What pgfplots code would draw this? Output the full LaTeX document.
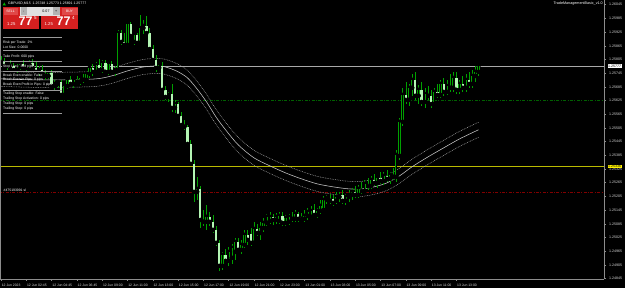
\documentclass[border=0pt]{standalone}
\usepackage{fontspec}
\setmainfont{Liberation Sans}
\usepackage{pgfplots}
\usepackage{pgfplotstable}
\pgfplotsset{compat=1.18}
\pgfdeclarelayer{background}
\pgfsetlayers{background,main}
\definecolor{wick}{HTML}{00A000}
\definecolor{bearfill}{HTML}{B4F5B4}
\definecolor{axgray}{HTML}{8C8C8C}
\definecolor{lbl}{HTML}{D8D8D8}
\definecolor{envc}{HTML}{C8C8C8}
\definecolor{envd}{HTML}{A8A8A8}
\definecolor{tpgreen}{HTML}{006000}
\definecolor{slred}{HTML}{800000}
\definecolor{openyel}{HTML}{BABA00}
\definecolor{bidline}{HTML}{A8A8A8}
\definecolor{sellred}{HTML}{D42020}
\definecolor{btnred}{HTML}{E04848}
\definecolor{panelgray}{HTML}{9A9A9A}
\newcommand\pf{\fontsize{3.4}{4}\selectfont}

\pgfplotstableread{
i o h l c
0 1.25803 1.25821 1.25786 1.25794
1 1.25794 1.25812 1.25768 1.25777
2 1.25777 1.25794 1.25759 1.25786
3 1.25786 1.25803 1.25768 1.25777
4 1.25777 1.25790 1.25751 1.25759
5 1.25759 1.25786 1.25746 1.25772
6 1.25772 1.25794 1.25759 1.25786
7 1.25786 1.25803 1.25764 1.25768
8 1.25768 1.25790 1.25751 1.25781
9 1.25781 1.25803 1.25768 1.25790
10 1.25790 1.25808 1.25759 1.25768
11 1.25768 1.25794 1.25742 1.25751
12 1.25751 1.25777 1.25733 1.25759
13 1.25759 1.25781 1.25733 1.25742
14 1.25742 1.25759 1.25716 1.25733
15 1.25733 1.25755 1.25720 1.25746
16 1.25746 1.25759 1.25681 1.25689
17 1.25689 1.25716 1.25672 1.25698
18 1.25698 1.25716 1.25681 1.25707
19 1.25707 1.25716 1.25641 1.25650
20 1.25650 1.25698 1.25641 1.25689
21 1.25689 1.25724 1.25676 1.25716
22 1.25716 1.25733 1.25689 1.25698
23 1.25698 1.25724 1.25681 1.25716
24 1.25716 1.25733 1.25698 1.25707
25 1.25707 1.25729 1.25694 1.25724
26 1.25724 1.25742 1.25702 1.25716
27 1.25716 1.25751 1.25707 1.25742
28 1.25742 1.25777 1.25724 1.25768
29 1.25768 1.25786 1.25733 1.25751
30 1.25751 1.25794 1.25742 1.25781
31 1.25781 1.25808 1.25751 1.25759
32 1.25759 1.25803 1.25746 1.25790
33 1.25790 1.25803 1.25742 1.25751
34 1.25751 1.25794 1.25738 1.25786
35 1.25786 1.25799 1.25742 1.25751
36 1.25751 1.25777 1.25733 1.25759
37 1.25759 1.25935 1.25751 1.25921
38 1.25921 1.25935 1.25869 1.25882
39 1.25882 1.25921 1.25860 1.25869
40 1.25869 1.25970 1.25860 1.25961
41 1.25961 1.25970 1.25900 1.25908
42 1.25882 1.25921 1.25869 1.25913
43 1.25913 1.25921 1.25873 1.25878
44 1.25878 1.26000 1.25869 1.25943
45 1.25943 1.25978 1.25917 1.25952
46 1.25952 1.25996 1.25913 1.25921
47 1.25921 1.25943 1.25847 1.25851
48 1.25851 1.25869 1.25794 1.25803
49 1.25803 1.25825 1.25751 1.25768
50 1.25768 1.25790 1.25759 1.25781
51 1.25777 1.25794 1.25663 1.25672
52 1.25672 1.25689 1.25628 1.25641
53 1.25641 1.25663 1.25619 1.25650
54 1.25654 1.25698 1.25575 1.25593
55 1.25593 1.25628 1.25571 1.25610
56 1.25610 1.25619 1.25549 1.25558
57 1.25558 1.25575 1.25510 1.25518
58 1.25518 1.25540 1.25497 1.25510
59 1.25510 1.25518 1.25427 1.25435
60 1.25435 1.25453 1.25339 1.25348
61 1.25348 1.25365 1.25181 1.25225
62 1.25225 1.25291 1.25190 1.25238
63 1.25238 1.25251 1.25067 1.25102
64 1.25102 1.25146 1.25076 1.25094
65 1.25094 1.25168 1.25059 1.25116
66 1.25116 1.25137 1.25076 1.25094
67 1.25094 1.25124 1.25045 1.25059
68 1.25059 1.25076 1.24988 1.25002
69 1.25002 1.25015 1.24879 1.24901
70 1.24901 1.24962 1.24883 1.24949
71 1.24949 1.24975 1.24914 1.24923
72 1.24923 1.24984 1.24901 1.24962
73 1.24936 1.24997 1.24910 1.24980
74 1.24962 1.25024 1.24927 1.25006
75 1.25006 1.25024 1.24962 1.24971
76 1.24971 1.25015 1.24953 1.24993
77 1.24993 1.25059 1.24980 1.25037
78 1.25037 1.25059 1.24993 1.25015
79 1.25041 1.25067 1.24988 1.25002
80 1.25002 1.25094 1.24997 1.25063
81 1.25063 1.25085 1.25032 1.25045
82 1.25045 1.25094 1.25015 1.25067
83 1.25067 1.25111 1.25050 1.25089
84 1.25089 1.25129 1.25076 1.25116
85 1.25098 1.25137 1.25085 1.25116
86 1.25116 1.25129 1.25081 1.25102
87 1.25102 1.25133 1.25085 1.25116
88 1.25098 1.25137 1.25085 1.25120
89 1.25120 1.25137 1.25076 1.25089
90 1.25089 1.25124 1.25076 1.25111
91 1.25094 1.25129 1.25081 1.25116
92 1.25116 1.25137 1.25094 1.25107
93 1.25107 1.25146 1.25094 1.25129
94 1.25129 1.25137 1.25094 1.25107
95 1.25116 1.25133 1.25098 1.25107
96 1.25107 1.25146 1.25094 1.25120
97 1.25120 1.25155 1.25102 1.25137
98 1.25116 1.25164 1.25107 1.25142
99 1.25146 1.25172 1.25116 1.25124
100 1.25124 1.25155 1.25111 1.25142
101 1.25142 1.25190 1.25129 1.25164
102 1.25146 1.25207 1.25137 1.25190
103 1.25190 1.25212 1.25172 1.25199
104 1.25194 1.25216 1.25172 1.25186
105 1.25194 1.25212 1.25164 1.25177
106 1.25186 1.25225 1.25172 1.25203
107 1.25203 1.25225 1.25181 1.25207
108 1.25212 1.25234 1.25172 1.25186
109 1.25186 1.25216 1.25168 1.25203
110 1.25203 1.25234 1.25181 1.25212
111 1.25212 1.25243 1.25190 1.25225
112 1.25225 1.25251 1.25199 1.25212
113 1.25212 1.25256 1.25199 1.25238
114 1.25238 1.25269 1.25216 1.25229
115 1.25229 1.25278 1.25221 1.25260
116 1.25260 1.25286 1.25234 1.25251
117 1.25251 1.25295 1.25238 1.25278
118 1.25278 1.25304 1.25251 1.25264
119 1.25264 1.25295 1.25243 1.25286
120 1.25286 1.25313 1.25260 1.25273
121 1.25273 1.25313 1.25256 1.25295
122 1.25295 1.25321 1.25269 1.25282
123 1.25282 1.25313 1.25260 1.25300
124 1.25300 1.25330 1.25278 1.25291
125 1.25291 1.25409 1.25269 1.25387
126 1.25383 1.25549 1.25365 1.25532
127 1.25532 1.25681 1.25514 1.25650
128 1.25650 1.25707 1.25610 1.25628
129 1.25628 1.25698 1.25602 1.25681
130 1.25681 1.25742 1.25646 1.25716
131 1.25716 1.25751 1.25628 1.25646
132 1.25646 1.25694 1.25610 1.25672
133 1.25672 1.25707 1.25602 1.25619
134 1.25619 1.25681 1.25593 1.25654
135 1.25654 1.25689 1.25628 1.25646
136 1.25646 1.25672 1.25593 1.25610
137 1.25610 1.25681 1.25602 1.25663
138 1.25663 1.25698 1.25637 1.25650
139 1.25650 1.25716 1.25637 1.25698
140 1.25698 1.25724 1.25646 1.25663
141 1.25663 1.25716 1.25650 1.25689
142 1.25689 1.25742 1.25663 1.25681
143 1.25681 1.25751 1.25663 1.25724
144 1.25724 1.25751 1.25654 1.25672
145 1.25672 1.25716 1.25654 1.25698
146 1.25698 1.25733 1.25663 1.25681
147 1.25681 1.25742 1.25663 1.25716
148 1.25716 1.25751 1.25681 1.25698
149 1.25698 1.25759 1.25681 1.25733
150 1.25733 1.25777 1.25707 1.25751
151 1.25751 1.25777 1.25733 1.25777
}\candles

\pgfplotstableread{
i mid up lo
-1 1.25720 1.25753 1.25687
0 1.25720 1.25753 1.25687
10 1.25716 1.25749 1.25683
20 1.25716 1.25749 1.25683
30 1.25720 1.25753 1.25687
35 1.25733 1.25766 1.25700
40 1.25755 1.25788 1.25722
45 1.25772 1.25805 1.25739
50 1.25777 1.25810 1.25744
53 1.25768 1.25801 1.25735
56 1.25751 1.25784 1.25718
59 1.25724 1.25757 1.25691
62 1.25676 1.25709 1.25643
65 1.25619 1.25652 1.25586
68 1.25553 1.25586 1.25520
71 1.25497 1.25530 1.25464
75 1.25431 1.25464 1.25398
80 1.25374 1.25407 1.25341
85 1.25339 1.25372 1.25306
90 1.25308 1.25341 1.25275
95 1.25282 1.25315 1.25249
100 1.25260 1.25293 1.25227
105 1.25247 1.25280 1.25214
110 1.25238 1.25271 1.25205
114 1.25238 1.25271 1.25205
118 1.25247 1.25280 1.25214
122 1.25264 1.25297 1.25231
126 1.25295 1.25328 1.25262
130 1.25335 1.25368 1.25302
135 1.25378 1.25411 1.25345
140 1.25418 1.25451 1.25385
145 1.25457 1.25490 1.25424
151 1.25497 1.25530 1.25464
}\env

\begin{document}
\begin{tikzpicture}[x=1pt,y=1pt]
\begin{axis}[
  name=ax, at={(0,9)}, anchor=south west,
  width=604pt, height=279pt, scale only axis,
  xmin=-0.316, xmax=190.67, ymin=1.248432, ymax=1.260656,
  axis x line*=bottom, axis y line*=right,
  axis line style={draw=axgray, line width=0.6pt},
  clip mode=individual,
  tick align=outside, major tick length=2pt,
  tick style={draw=axgray, line width=0.5pt},
  scaled y ticks=false,
  ytick={1.24845,1.24905,1.24965,1.25025,1.25085,1.25145,1.25205,1.25265,1.25325,1.25385,1.25445,1.25505,1.25565,1.25625,1.25685,1.25745,1.25805,1.25865,1.25925,1.25985,1.26045},
  yticklabel style={font=\fontsize{3.6}{4}\selectfont, text=lbl, anchor=west, inner sep=0pt, xshift=3pt,
     /pgf/number format/fixed, /pgf/number format/precision=5, /pgf/number format/zerofill, /pgf/number format/assume math mode=true},
  xtick={0,8,...,144},
  xticklabels={12 Jun 2023,12 Jun 02:45,12 Jun 04:45,12 Jun 06:45,12 Jun 09:00,12 Jun 11:00,12 Jun 13:00,12 Jun 15:00,12 Jun 17:00,12 Jun 19:00,12 Jun 21:00,12 Jun 23:00,13 Jun 01:00,13 Jun 03:00,13 Jun 05:00,13 Jun 07:00,13 Jun 09:00,13 Jun 11:00,13 Jun 13:00},
  xticklabel style={font=\fontsize{3.4}{4}\selectfont, text=lbl, anchor=north west, inner sep=0pt, yshift=-2.5pt, xshift=0.6pt},
]
% horizontal levels
\addplot[draw=bidline, line width=0.6pt] coordinates {(-5,1.25777) (200,1.25777)};
\addplot[draw=tpgreen, line width=0.6pt, dash pattern=on 3pt off 1.5pt on 0.8pt off 1.5pt] coordinates {(-5,1.25625) (200,1.25625)};
\addplot[draw=openyel, line width=0.6pt] coordinates {(-5,1.25336) (200,1.25336)};
\addplot[draw=slred, line width=0.6pt, dash pattern=on 3pt off 1.5pt on 0.8pt off 1.5pt] coordinates {(-5,1.25222) (200,1.25222)};
% envelopes
\addplot[draw=envc, line width=0.55pt, smooth] table[x=i, y=mid] {\env};
\addplot[draw=envd, line width=0.5pt, smooth, dash pattern=on 0.8pt off 0.9pt] table[x=i, y=up] {\env};
\addplot[draw=envd, line width=0.5pt, smooth, dash pattern=on 0.8pt off 0.9pt] table[x=i, y=lo] {\env};
% wicks
\addplot[only marks, mark=none, error bars/.cd, y dir=both, y explicit, error mark=none,
  error bar style={draw=wick, line width=0.55pt}]
  table[x=i, y=c, y error plus expr=\thisrow{h}-\thisrow{c}, y error minus expr=\thisrow{c}-\thisrow{l}] {\candles};
% bear bodies
\addplot[only marks, mark=none, restrict expr to domain={\thisrow{o}-\thisrow{c}}{0.000001:1},
  error bars/.cd, y dir=plus, y explicit, error mark=none,
  error bar style={draw=bearfill, line width=2.3pt, line cap=butt}]
  table[x=i, y=c, y error plus expr=\thisrow{o}-\thisrow{c}] {\candles};
% bull bodies
\addplot[only marks, mark=none, restrict expr to domain={\thisrow{c}-\thisrow{o}}{0:1},
  error bars/.cd, y dir=plus, y explicit, error mark=none,
  error bar style={draw=wick, line width=2.3pt, line cap=butt}]
  table[x=i, y=o, y error plus expr=\thisrow{c}-\thisrow{o}] {\candles};
\addplot[only marks, mark=none, restrict expr to domain={\thisrow{c}-\thisrow{o}}{0:1},
  error bars/.cd, y dir=plus, y explicit, error mark=none,
  error bar style={draw=black, line width=0.9pt, line cap=butt, shorten >=0.45pt, shorten <=0.45pt}]
  table[x=i, y=o, y error plus expr=\thisrow{c}-\thisrow{o}] {\candles};
\end{axis}
\begin{scope}[shift={(ax.south west)}]
\begin{scope}[yshift=-9pt]
\begin{pgfonlayer}{background}
\fill[black] (0,0) rectangle (625,288);
\end{pgfonlayer}
% left border
\draw[axgray, line width=0.6pt] (0.3,9) -- (0.3,288);
% price tags on the right axis
\node[fill=white, text=black, inner sep=0.5pt, anchor=west, font=\fontsize{3.6}{4}\selectfont] at (607.5,222) {1.25777};
\node[fill=yellow, text=black, inner sep=0.5pt, anchor=west, font=\fontsize{3.6}{4}\selectfont] at (607.5,121.5) {1.25336};
% title and EA name
\node[anchor=west, text=white, inner sep=0pt, font=\fontsize{3.5}{4}\selectfont] at (8,284) {GBPUSD,M15\ \ 1.25748 1.25773 1.25691 1.25777};
\fill[green!70!black] (2.5,282.5) -- (6,282.5) -- (4.25,285.5) -- cycle;
\node[anchor=east, text=white, inner sep=0pt, font=\fontsize{3.7}{4}\selectfont] at (603,284) {TradeManagementBasic\_v1.0};
% trade panel
\fill[sellred] (2.7,259) rectangle (39.3,280.7);
\fill[sellred] (40.7,259) rectangle (78.3,280.7);
\fill[btnred] (3.5,273) rectangle (17.5,280);
\fill[btnred] (61.5,273) rectangle (77.5,280);
\node[text=white, inner sep=0pt, font=\fontsize{3.4}{4}\selectfont] at (10.5,276.5) {SELL};
\node[text=white, inner sep=0pt, font=\fontsize{3.4}{4}\selectfont] at (69.5,276.5) {BUY};
\fill[white!88!black] (20,272) rectangle (60,281);
\fill[white!70!black] (20.5,272.5) rectangle (27,280.5);
\fill[white!70!black] (53,272.5) rectangle (59.5,280.5);
\node[text=black, inner sep=0pt, font=\fontsize{3.6}{4}\selectfont] at (23.75,276.5) {-};
\node[text=black, inner sep=0pt, font=\fontsize{3.6}{4}\selectfont] at (56.25,276.5) {+};
\node[text=black, inner sep=0pt, font=\fontsize{3.6}{4}\selectfont] at (46,276.5) {0.07};
\node[text=white, inner sep=0pt, anchor=base west, font=\fontsize{4.2}{5}\selectfont] at (7,262) {1.25};
\node[text=white, inner sep=0pt, anchor=base west, font=\fontsize{12.5}{13}\selectfont\bfseries] at (18.5,262) {77};
\node[text=white, inner sep=0pt, anchor=base west, font=\fontsize{4.5}{5}\selectfont] at (34,268) {5};
\node[text=white, inner sep=0pt, anchor=base west, font=\fontsize{4.2}{5}\selectfont] at (44.5,262) {1.25};
\node[text=white, inner sep=0pt, anchor=base west, font=\fontsize{12.5}{13}\selectfont\bfseries] at (56.5,262) {77};
\node[text=white, inner sep=0pt, anchor=base west, font=\fontsize{4.5}{5}\selectfont] at (72,268) {4};
% info panel
\foreach \yy in {37.7,50.7,61,71.5,90,113.3} {\draw[panelgray, line width=0.5pt] (3,288-\yy) -- (62,288-\yy);}
\foreach \yy/\tt in {42.7/Risk per Trade: 2\%, 47/Lot Size: 0.0600, 57/Take Profit: 600 pips, 66.5/Stop Loss: 300 pips, 75/Break Even enable: False, 80/Break Even in Pips: 0 pips, 85/Break Even Profit in Pips: 0 pips, 94/Trailing Stop enable: False, 99/Trailing Stop Activation: 0 pips, 104/Trailing Stop: 0 pips, 109/Trailing Step: 0 pips}
  {\node[anchor=west, text=white, inner sep=0pt, font=\pf] at (3,288-\yy) {\tt};}
\node[anchor=west, text=white, inner sep=0pt, font=\pf] at (3.5,98) {\#475193991 sl};
\pgfresetboundingbox
\path[use as bounding box] (0,0) rectangle (625,288);
\end{scope}
\end{scope}
\end{tikzpicture}
\end{document}
